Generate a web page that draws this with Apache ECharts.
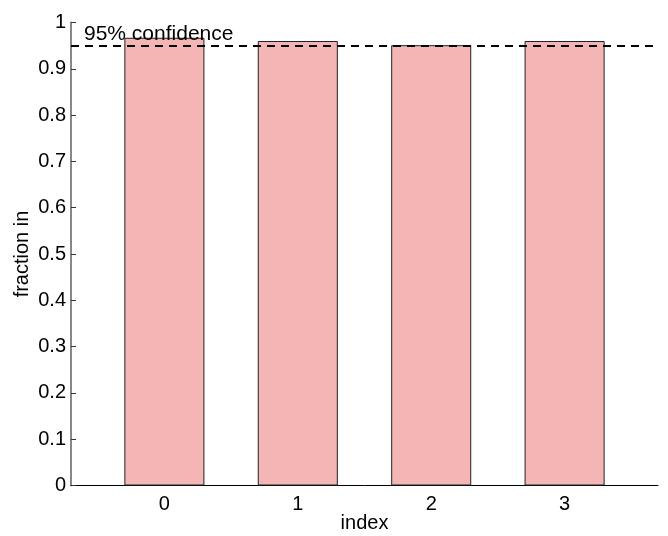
<!DOCTYPE html>
<html><head><meta charset="utf-8">
<script src="https://cdn.jsdelivr.net/npm/echarts@6/dist/echarts.min.js"></script>
<style>html,body{margin:0;padding:0;background:#fff}#c{width:668px;height:536px}</style>
</head><body><div id="c"></div>
<script>
const categories = [0, 1, 2, 3];
const fractionIn = [0.967, 0.96, 0.951, 0.96];
const yTicks = [0, 0.1, 0.2, 0.3, 0.4, 0.5, 0.6, 0.7, 0.8, 0.9, 1];
const confidenceLevel = 0.95;
const confidenceLabel = '95% confidence';

const chart = echarts.init(document.getElementById('c'), null, {renderer: 'canvas'});
const font = '"Liberation Sans", Arial, Helvetica, sans-serif';
const gridLeft = 71, gridRight = 10, xMin = -0.7, xMax = 3.7;
const plotW = 668 - gridLeft - gridRight;
const barPx = 0.6 * plotW / (xMax - xMin);

chart.setOption({
  animation: false,
  grid: {left: gridLeft, right: gridRight, top: 22.5, bottom: 50.5, containLabel: false, outerBoundsMode: 'none'},
  xAxis: {
    type: 'value', min: xMin, max: xMax,
    name: 'index', nameLocation: 'middle', nameGap: 28, nameMoveOverlap: false,
    nameTextStyle: {fontFamily: font, fontSize: 20, color: '#000'},
    axisLine: {show: true, onZero: false, lineStyle: {color: '#000', width: 1}},
    axisTick: {show: false},
    splitLine: {show: false},
    axisLabel: {customValues: categories, fontFamily: font, fontSize: 20, color: '#000', margin: 9,
      formatter: v => String(v)}
  },
  yAxis: {
    type: 'value', min: 0, max: 1, interval: 0.1,
    name: 'fraction in', nameLocation: 'middle', nameGap: 39, nameMoveOverlap: false,
    nameTextStyle: {fontFamily: font, fontSize: 20, color: '#000'},
    axisLine: {show: true, onZero: false, lineStyle: {color: '#888', width: 2}},
    axisTick: {show: true, inside: true, length: 5, lineStyle: {color: '#333'}},
    splitLine: {show: false},
    axisLabel: {fontFamily: font, fontSize: 20, color: '#000', margin: 5,
      customValues: yTicks,
      formatter: v => String(parseFloat(v.toFixed(1)))}
  },
  series: [{
    type: 'bar',
    data: categories.map((c, i) => [c, fractionIn[i]]),
    barWidth: barPx,
    itemStyle: {color: '#f4b5b5', borderColor: '#222', borderWidth: 1},
    markLine: {
      silent: true, symbol: 'none',
      lineStyle: {color: '#000', type: [8, 6], width: 2.2},
      label: {show: true, position: 'insideStartTop', formatter: confidenceLabel,
        fontFamily: font, fontSize: 21, color: '#000', distance: [13, 1]},
      data: [{yAxis: confidenceLevel}]
    }
  }]
});
</script></body></html>
